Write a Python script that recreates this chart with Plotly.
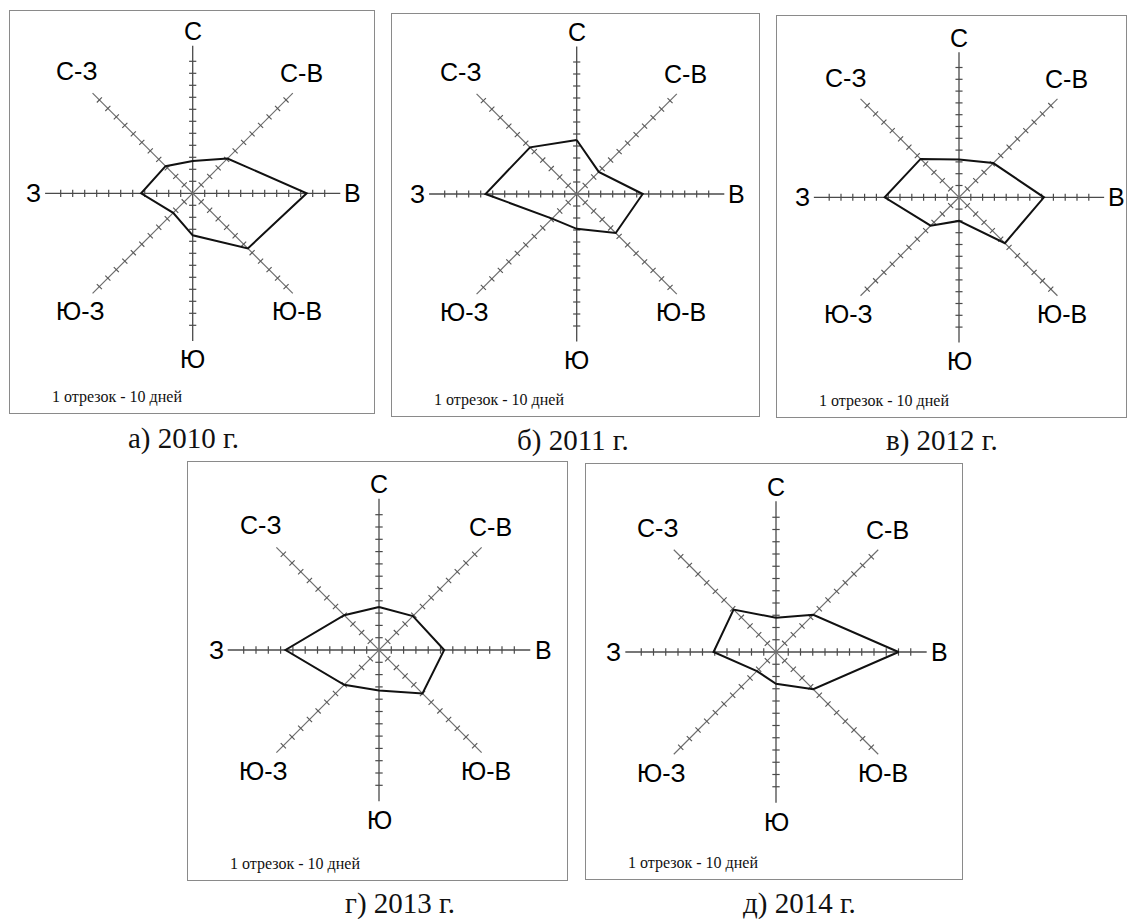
import math
import plotly.graph_objects as go

# Wind directions, clockwise from north
directions = ["С", "С-В", "В", "Ю-В", "Ю", "Ю-З", "З", "С-З"]

# Number of days with wind from each direction
days_2010 = [27, 41, 95, 65, 35, 23, 43, 32]
days_2011 = [45, 26, 55, 46, 29, 29, 76, 55]
days_2012 = [32, 41, 72, 55, 20, 34, 63, 46]
days_2013 = [35, 39, 53, 50, 33, 40, 76, 40]
days_2014 = [28, 43, 100, 43, 26, 22, 51, 49]

captions = ["а) 2010 г.", "б) 2011 г.", "в) 2012 г.", "г) 2013 г.", "д) 2014 г."]
scale_note = "1 отрезок - 10 дней"
DAYS_PER_SEGMENT = 10
N_TICKS = 11

W, H = 1127, 919

# Panel frames in page pixels: box (left, top, right, bottom), centre, px per segment,
# caption centre x / y
panels = [
    dict(days=days_2010, box=(10, 11, 374, 413), c=(192.7, 193.3), s=12.0, cap=(183, 438)),
    dict(days=days_2011, box=(392, 14, 759, 416), c=(576.7, 194.0), s=12.0, cap=(573, 440)),
    dict(days=days_2012, box=(777, 16, 1126, 417), c=(959.0, 197.3), s=11.8, cap=(942, 440)),
    dict(days=days_2013, box=(188, 462, 567, 880), c=(379.0, 650.0), s=12.3, cap=(400, 903)),
    dict(days=days_2014, box=(586, 464, 962, 879), c=(776.0, 652.0), s=12.25, cap=(799, 903)),
]

# Direction label offsets from the centre, in segments (x right, y up)
label_offsets = [(0, 13.5), (9.1, 10.0), (13.35, 0), (8.7, -9.85),
                 (0, -13.85), (-9.35, -9.85), (-13.25, 0), (-9.65, 10.15)]

angles = [math.radians(90 - 45 * k) for k in range(8)]
units = [(math.cos(a), math.sin(a)) for a in angles]

fig = go.Figure()
annotations = []
layout_axes = {}

for i, p in enumerate(panels, start=1):
    xa = "x" if i == 1 else f"x{i}"
    ya = "y" if i == 1 else f"y{i}"
    x0, y0, x1, y1 = p["box"]
    cx, cy = p["c"]
    s = p["s"]

    layout_axes["xaxis" if i == 1 else f"xaxis{i}"] = dict(
        domain=[x0 / W, x1 / W], range=[(x0 - cx) / s, (x1 - cx) / s],
        anchor=ya, showgrid=False, zeroline=False, showticklabels=False, ticks="",
        showline=True, mirror=True, linecolor="#8a8a8a", linewidth=1, fixedrange=True)
    layout_axes["yaxis" if i == 1 else f"yaxis{i}"] = dict(
        domain=[1 - y1 / H, 1 - y0 / H], range=[-(y1 - cy) / s, (cy - y0) / s],
        anchor=xa, showgrid=False, zeroline=False, showticklabels=False, ticks="",
        showline=True, mirror=True, linecolor="#8a8a8a", linewidth=1, fixedrange=True)

    # Main axes: W-E and S-N (darker), diagonals (lighter)
    main_len = 12.3
    diag_len = 11.8
    fig.add_trace(go.Scatter(
        x=[-main_len, main_len, None, 0, 0], y=[0, 0, None, -main_len, main_len],
        mode="lines", line=dict(color="#4a4a4a", width=1.3),
        xaxis=xa, yaxis=ya, hoverinfo="skip", showlegend=False))
    d = diag_len / math.sqrt(2)
    fig.add_trace(go.Scatter(
        x=[-d, d, None, -d, d], y=[-d, d, None, d, -d],
        mode="lines", line=dict(color="#6e6e6e", width=1.2),
        xaxis=xa, yaxis=ya, hoverinfo="skip", showlegend=False))

    # Tick marks every segment, perpendicular to each ray
    hx, hy, dx_, dy_ = [], [], [], []
    half = 0.3
    for k, (ux, uy) in enumerate(units):
        nx, ny = -uy, ux
        for t in range(1, N_TICKS + 1):
            px, py = ux * t, uy * t
            seg_x = [px - nx * half, px + nx * half, None]
            seg_y = [py - ny * half, py + ny * half, None]
            if k % 2 == 0:
                hx += seg_x
                hy += seg_y
            else:
                dx_ += seg_x
                dy_ += seg_y
    fig.add_trace(go.Scatter(x=hx, y=hy, mode="lines", line=dict(color="#4a4a4a", width=1.2),
                             xaxis=xa, yaxis=ya, hoverinfo="skip", showlegend=False))
    fig.add_trace(go.Scatter(x=dx_, y=dy_, mode="lines", line=dict(color="#555555", width=1.1),
                             xaxis=xa, yaxis=ya, hoverinfo="skip", showlegend=False))

    # Wind rose polygon
    r = [v / DAYS_PER_SEGMENT for v in p["days"]]
    px_ = [rv * u[0] for rv, u in zip(r, units)]
    py_ = [rv * u[1] for rv, u in zip(r, units)]
    fig.add_trace(go.Scatter(
        x=px_ + [px_[0]], y=py_ + [py_[0]], mode="lines",
        line=dict(color="#111111", width=2),
        text=directions + [directions[0]],
        customdata=p["days"] + [p["days"][0]],
        hovertemplate="%{text}: %{customdata} дн.<extra></extra>",
        xaxis=xa, yaxis=ya, showlegend=False))

    # Direction labels
    for name, (ox, oy) in zip(directions, label_offsets):
        annotations.append(dict(
            x=ox, y=oy, xref=xa, yref=ya, text=name, showarrow=False,
            font=dict(family="Liberation Sans, Arial, sans-serif", size=25, color="#000000"),
            xanchor="center", yanchor="middle"))

    # Scale note inside the frame
    annotations.append(dict(
        x=(x0 + 40) / W, y=1 - (y1 - 16) / H, xref="paper", yref="paper",
        text=scale_note, showarrow=False, xanchor="left", yanchor="middle",
        font=dict(family="Liberation Serif, Times New Roman, serif", size=16, color="#111111")))

    # Caption below the frame
    annotations.append(dict(
        x=p["cap"][0] / W, y=1 - p["cap"][1] / H, xref="paper", yref="paper",
        text=captions[i - 1], showarrow=False, xanchor="center", yanchor="middle",
        font=dict(family="Liberation Serif, Times New Roman, serif", size=29, color="#111111")))

fig.update_layout(
    width=W, height=H, margin=dict(l=0, r=0, t=0, b=0),
    paper_bgcolor="white", plot_bgcolor="white",
    annotations=annotations, showlegend=False, **layout_axes)

fig.write_html("out.html", config={"displayModeBar": False})
